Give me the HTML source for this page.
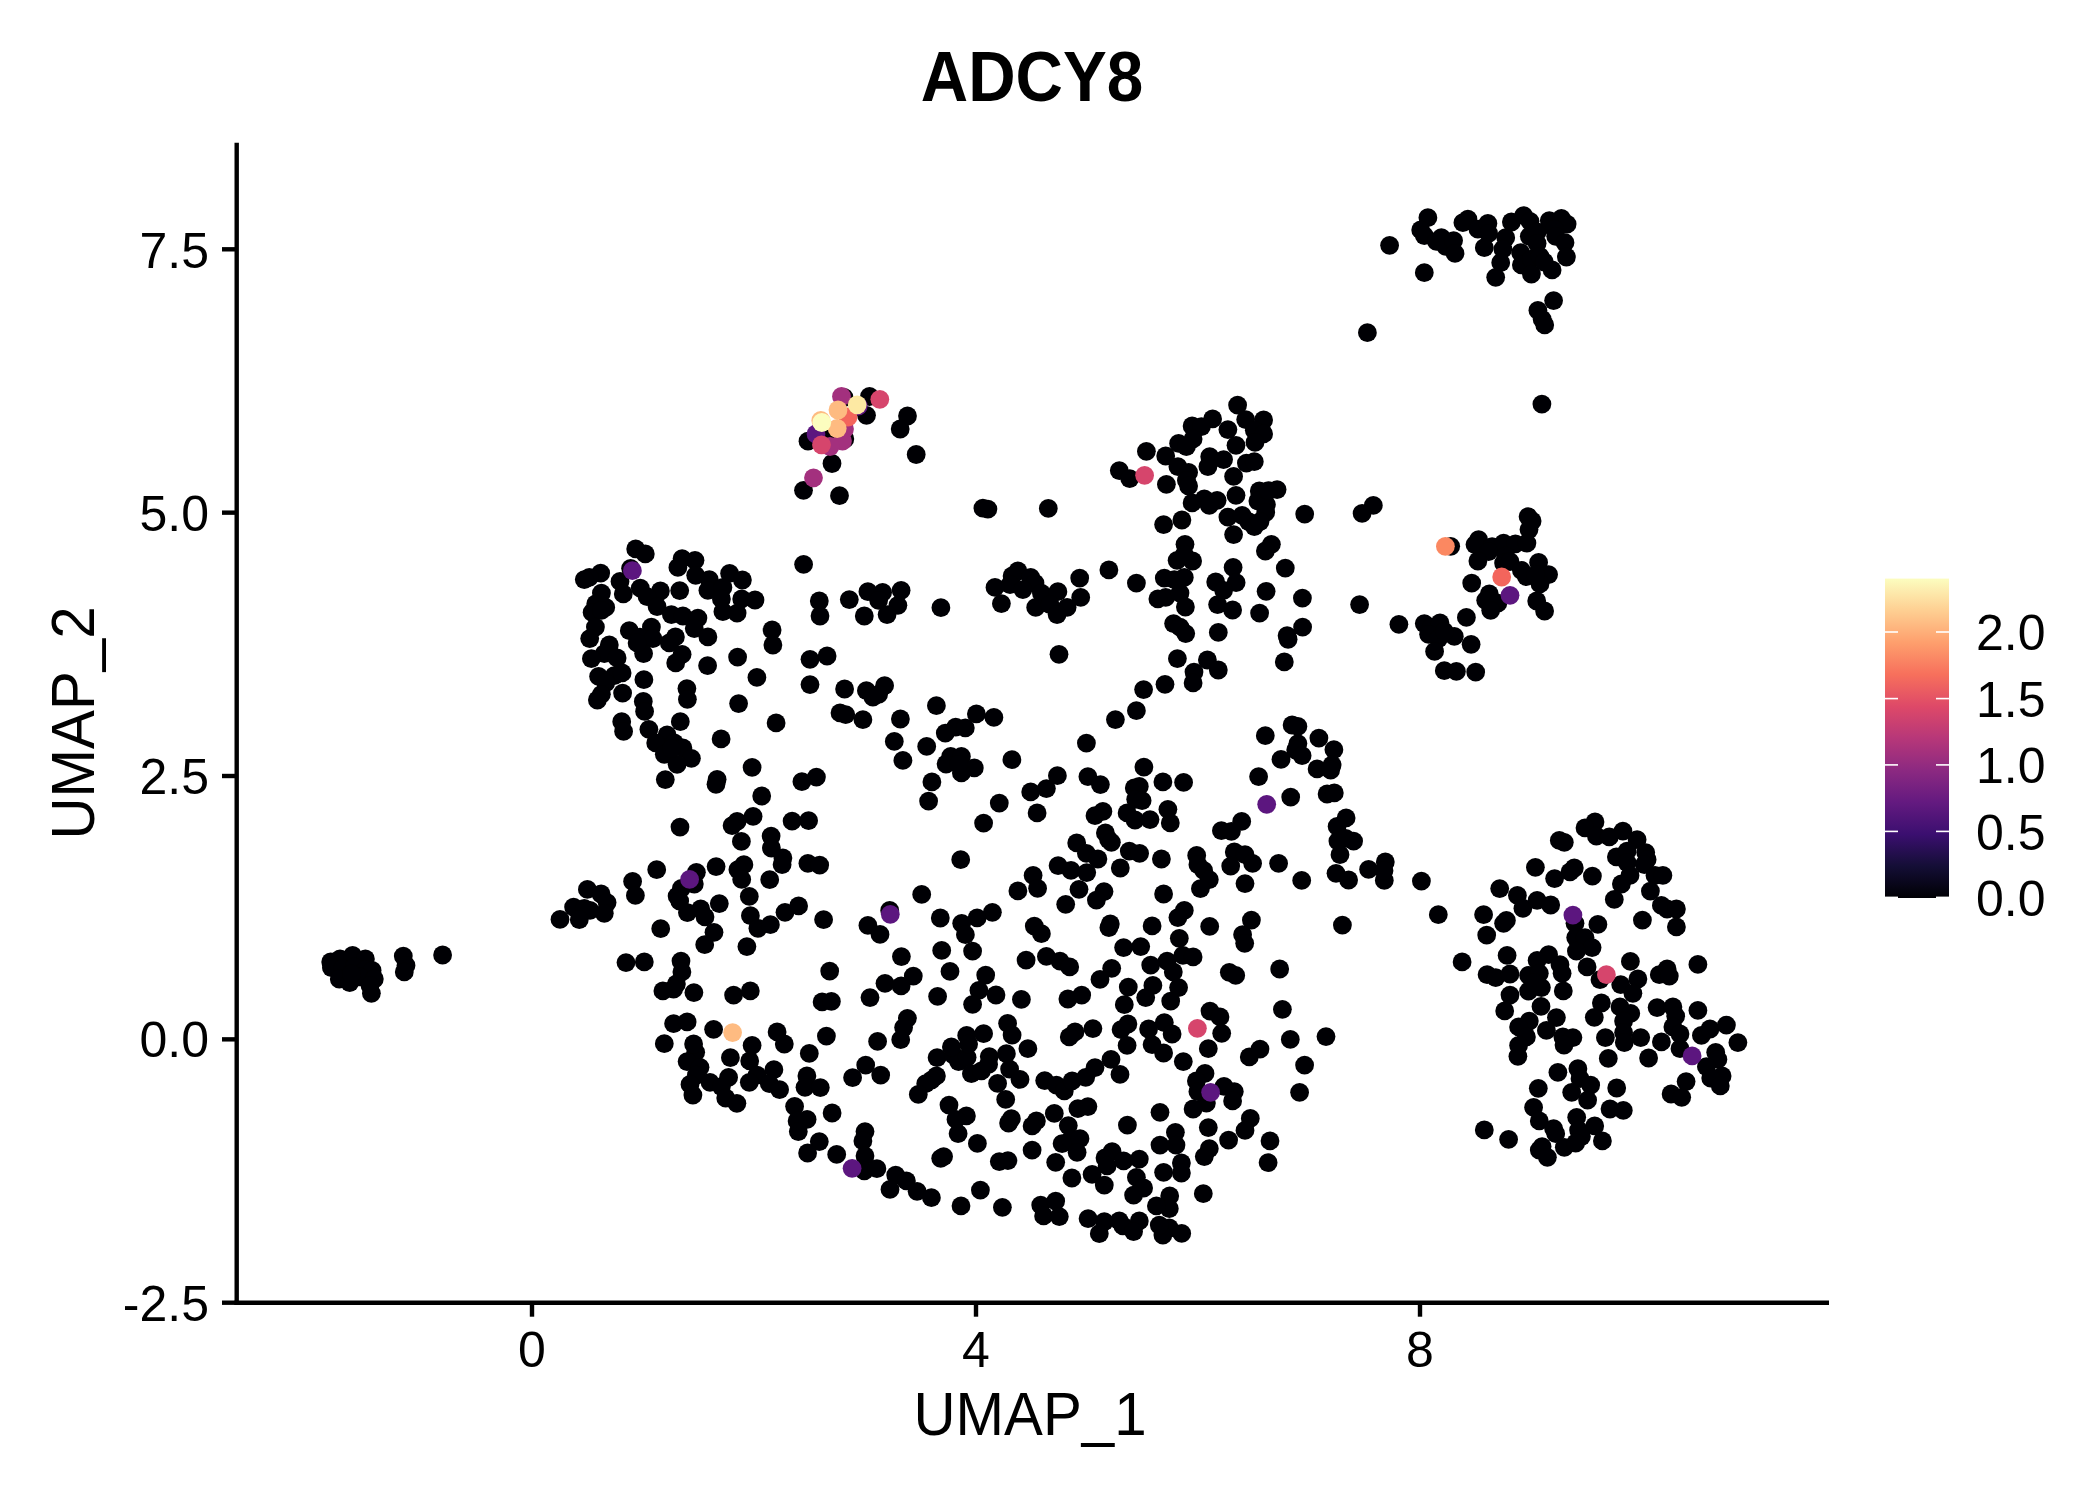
<!DOCTYPE html>
<html><head><meta charset="utf-8"><title>ADCY8</title>
<style>
html,body{margin:0;padding:0;background:#fff;}
body{width:2100px;height:1500px;overflow:hidden;}
svg{display:block;font-family:"Liberation Sans",Arial,Helvetica,sans-serif;fill:#000;}
.tick{font-size:50px;}
.axt{font-size:61px;}
.ttl{font-size:70px;font-weight:bold;}
</style></head><body>
<svg width="2100" height="1500" viewBox="0 0 2100 1500">
<defs>
<linearGradient id="mg" x1="0" y1="1" x2="0" y2="0">
<stop offset="0" stop-color="#000004"/>
<stop offset="0.1" stop-color="#140e36"/>
<stop offset="0.2" stop-color="#3b0f70"/>
<stop offset="0.3" stop-color="#641a80"/>
<stop offset="0.4" stop-color="#8c2981"/>
<stop offset="0.5" stop-color="#b73779"/>
<stop offset="0.6" stop-color="#de4968"/>
<stop offset="0.7" stop-color="#f7705c"/>
<stop offset="0.8" stop-color="#fe9f6d"/>
<stop offset="0.9" stop-color="#fecf92"/>
<stop offset="1" stop-color="#fcfdbf"/>
</linearGradient>
</defs>
<rect width="2100" height="1500" fill="#fff"/>
<text class="ttl" transform="translate(1032,101) scale(0.937,1)" text-anchor="middle">ADCY8</text>
<!-- points -->
<g fill="#000004">
<circle cx="1163.6" cy="1053.0" r="9.4"/>
<circle cx="1183.3" cy="1061.6" r="9.4"/>
<circle cx="1208.3" cy="1048.7" r="9.4"/>
<circle cx="1249.3" cy="1056.9" r="9.4"/>
<circle cx="1260.0" cy="1049.1" r="9.4"/>
<circle cx="1304.6" cy="1065.1" r="9.4"/>
<circle cx="1299.6" cy="1092.3" r="9.4"/>
<circle cx="1205.0" cy="1073.4" r="9.4"/>
<circle cx="1196.4" cy="1080.9" r="9.4"/>
<circle cx="1197.9" cy="1091.6" r="9.4"/>
<circle cx="1206.4" cy="1103.0" r="9.4"/>
<circle cx="1193.1" cy="1109.0" r="9.4"/>
<circle cx="1224.0" cy="1086.3" r="9.4"/>
<circle cx="1234.3" cy="1091.6" r="9.4"/>
<circle cx="1232.6" cy="1100.9" r="9.4"/>
<circle cx="1160.0" cy="1112.3" r="9.4"/>
<circle cx="1250.3" cy="1118.4" r="9.4"/>
<circle cx="1245.0" cy="1130.4" r="9.4"/>
<circle cx="1208.3" cy="1127.6" r="9.4"/>
<circle cx="1228.6" cy="1140.1" r="9.4"/>
<circle cx="1270.0" cy="1140.9" r="9.4"/>
<circle cx="1268.1" cy="1162.7" r="9.4"/>
<circle cx="1175.4" cy="1132.3" r="9.4"/>
<circle cx="1176.0" cy="1145.1" r="9.4"/>
<circle cx="1160.0" cy="1145.1" r="9.4"/>
<circle cx="1209.3" cy="1148.7" r="9.4"/>
<circle cx="1204.3" cy="1156.6" r="9.4"/>
<circle cx="1181.4" cy="1163.0" r="9.4"/>
<circle cx="1181.4" cy="1173.0" r="9.4"/>
<circle cx="1163.6" cy="1172.3" r="9.4"/>
<circle cx="1203.3" cy="1193.7" r="9.4"/>
<circle cx="1169.7" cy="1195.9" r="9.4"/>
<circle cx="1169.3" cy="1208.7" r="9.4"/>
<circle cx="1169.3" cy="1228.0" r="9.4"/>
<circle cx="1162.9" cy="1235.1" r="9.4"/>
<circle cx="1181.7" cy="1233.4" r="9.4"/>
<circle cx="1427.9" cy="217.7" r="9.4"/>
<circle cx="1420.7" cy="229.9" r="9.4"/>
<circle cx="1424.3" cy="235.6" r="9.4"/>
<circle cx="1436.4" cy="241.3" r="9.4"/>
<circle cx="1441.4" cy="237.7" r="9.4"/>
<circle cx="1445.7" cy="246.3" r="9.4"/>
<circle cx="1453.6" cy="240.6" r="9.4"/>
<circle cx="1455.0" cy="253.4" r="9.4"/>
<circle cx="1389.6" cy="245.3" r="9.4"/>
<circle cx="1424.3" cy="272.7" r="9.4"/>
<circle cx="1367.4" cy="332.7" r="9.4"/>
<circle cx="1237.6" cy="405.1" r="9.4"/>
<circle cx="1212.6" cy="418.9" r="9.4"/>
<circle cx="1192.1" cy="426.0" r="9.4"/>
<circle cx="1201.4" cy="426.7" r="9.4"/>
<circle cx="1193.1" cy="438.9" r="9.4"/>
<circle cx="1178.6" cy="443.4" r="9.4"/>
<circle cx="1186.4" cy="446.7" r="9.4"/>
<circle cx="1227.9" cy="429.6" r="9.4"/>
<circle cx="1236.0" cy="445.3" r="9.4"/>
<circle cx="1245.7" cy="419.6" r="9.4"/>
<circle cx="1263.6" cy="420.0" r="9.4"/>
<circle cx="1254.3" cy="430.3" r="9.4"/>
<circle cx="1263.6" cy="433.9" r="9.4"/>
<circle cx="1255.0" cy="442.4" r="9.4"/>
<circle cx="1165.7" cy="456.0" r="9.4"/>
<circle cx="1177.9" cy="466.7" r="9.4"/>
<circle cx="1188.6" cy="472.4" r="9.4"/>
<circle cx="1186.4" cy="480.3" r="9.4"/>
<circle cx="1188.6" cy="486.0" r="9.4"/>
<circle cx="1209.7" cy="456.7" r="9.4"/>
<circle cx="1223.6" cy="459.6" r="9.4"/>
<circle cx="1207.9" cy="466.7" r="9.4"/>
<circle cx="1246.4" cy="463.1" r="9.4"/>
<circle cx="1254.3" cy="461.7" r="9.4"/>
<circle cx="1233.6" cy="476.4" r="9.4"/>
<circle cx="1166.4" cy="484.3" r="9.4"/>
<circle cx="1236.0" cy="495.3" r="9.4"/>
<circle cx="1259.3" cy="491.0" r="9.4"/>
<circle cx="1277.1" cy="489.6" r="9.4"/>
<circle cx="1257.9" cy="501.0" r="9.4"/>
<circle cx="1266.4" cy="504.6" r="9.4"/>
<circle cx="1265.7" cy="512.4" r="9.4"/>
<circle cx="1192.1" cy="502.9" r="9.4"/>
<circle cx="1204.3" cy="498.9" r="9.4"/>
<circle cx="1217.1" cy="500.3" r="9.4"/>
<circle cx="1209.3" cy="505.3" r="9.4"/>
<circle cx="1227.9" cy="517.1" r="9.4"/>
<circle cx="1242.1" cy="515.3" r="9.4"/>
<circle cx="1248.6" cy="521.7" r="9.4"/>
<circle cx="1254.3" cy="526.7" r="9.4"/>
<circle cx="1260.0" cy="521.7" r="9.4"/>
<circle cx="1181.9" cy="520.0" r="9.4"/>
<circle cx="1163.6" cy="524.6" r="9.4"/>
<circle cx="1233.6" cy="534.6" r="9.4"/>
<circle cx="1304.7" cy="514.1" r="9.4"/>
<circle cx="1373.3" cy="505.3" r="9.4"/>
<circle cx="1362.1" cy="513.4" r="9.4"/>
<circle cx="1450.7" cy="546.3" r="9.4"/>
<circle cx="1271.4" cy="544.3" r="9.4"/>
<circle cx="1265.4" cy="551.0" r="9.4"/>
<circle cx="1285.3" cy="568.1" r="9.4"/>
<circle cx="1185.0" cy="544.3" r="9.4"/>
<circle cx="1177.1" cy="560.3" r="9.4"/>
<circle cx="1192.6" cy="561.0" r="9.4"/>
<circle cx="1184.3" cy="554.6" r="9.4"/>
<circle cx="1233.1" cy="567.4" r="9.4"/>
<circle cx="1236.1" cy="582.7" r="9.4"/>
<circle cx="1215.7" cy="582.0" r="9.4"/>
<circle cx="1223.6" cy="590.3" r="9.4"/>
<circle cx="1164.3" cy="578.1" r="9.4"/>
<circle cx="1174.3" cy="579.6" r="9.4"/>
<circle cx="1184.3" cy="577.4" r="9.4"/>
<circle cx="1266.1" cy="591.3" r="9.4"/>
<circle cx="1302.4" cy="598.1" r="9.4"/>
<circle cx="1359.6" cy="604.6" r="9.4"/>
<circle cx="1165.7" cy="597.4" r="9.4"/>
<circle cx="1180.0" cy="593.1" r="9.4"/>
<circle cx="1185.4" cy="607.0" r="9.4"/>
<circle cx="1217.6" cy="604.6" r="9.4"/>
<circle cx="1232.6" cy="610.0" r="9.4"/>
<circle cx="1259.6" cy="613.1" r="9.4"/>
<circle cx="1173.6" cy="623.6" r="9.4"/>
<circle cx="1180.0" cy="627.1" r="9.4"/>
<circle cx="1185.7" cy="633.6" r="9.4"/>
<circle cx="1218.3" cy="632.4" r="9.4"/>
<circle cx="1302.6" cy="627.1" r="9.4"/>
<circle cx="1287.1" cy="635.7" r="9.4"/>
<circle cx="1288.1" cy="639.3" r="9.4"/>
<circle cx="1284.3" cy="661.9" r="9.4"/>
<circle cx="1398.9" cy="624.3" r="9.4"/>
<circle cx="1424.3" cy="623.6" r="9.4"/>
<circle cx="1431.4" cy="627.1" r="9.4"/>
<circle cx="1440.0" cy="622.9" r="9.4"/>
<circle cx="1428.6" cy="634.3" r="9.4"/>
<circle cx="1438.6" cy="638.6" r="9.4"/>
<circle cx="1454.3" cy="636.4" r="9.4"/>
<circle cx="1444.3" cy="631.4" r="9.4"/>
<circle cx="1434.6" cy="651.4" r="9.4"/>
<circle cx="1444.3" cy="670.7" r="9.4"/>
<circle cx="1456.4" cy="671.4" r="9.4"/>
<circle cx="1177.4" cy="658.6" r="9.4"/>
<circle cx="1207.4" cy="660.0" r="9.4"/>
<circle cx="1194.0" cy="672.1" r="9.4"/>
<circle cx="1218.3" cy="670.0" r="9.4"/>
<circle cx="1193.1" cy="682.9" r="9.4"/>
<circle cx="1165.0" cy="684.3" r="9.4"/>
<circle cx="1292.1" cy="725.0" r="9.4"/>
<circle cx="1297.9" cy="726.4" r="9.4"/>
<circle cx="1265.3" cy="735.7" r="9.4"/>
<circle cx="1318.9" cy="738.1" r="9.4"/>
<circle cx="1333.9" cy="749.7" r="9.4"/>
<circle cx="1297.9" cy="743.6" r="9.4"/>
<circle cx="1295.7" cy="750.0" r="9.4"/>
<circle cx="1302.1" cy="755.7" r="9.4"/>
<circle cx="1281.0" cy="759.3" r="9.4"/>
<circle cx="1317.1" cy="768.9" r="9.4"/>
<circle cx="1332.1" cy="765.0" r="9.4"/>
<circle cx="1330.7" cy="770.0" r="9.4"/>
<circle cx="1258.6" cy="776.7" r="9.4"/>
<circle cx="1162.9" cy="781.9" r="9.4"/>
<circle cx="1183.6" cy="782.4" r="9.4"/>
<circle cx="1290.7" cy="797.1" r="9.4"/>
<circle cx="1327.1" cy="794.0" r="9.4"/>
<circle cx="1334.3" cy="792.9" r="9.4"/>
<circle cx="1167.9" cy="809.3" r="9.4"/>
<circle cx="1170.3" cy="822.9" r="9.4"/>
<circle cx="1241.7" cy="821.4" r="9.4"/>
<circle cx="1221.4" cy="830.7" r="9.4"/>
<circle cx="1231.4" cy="831.4" r="9.4"/>
<circle cx="1346.1" cy="817.9" r="9.4"/>
<circle cx="1337.1" cy="826.4" r="9.4"/>
<circle cx="1337.9" cy="841.1" r="9.4"/>
<circle cx="1345.7" cy="838.3" r="9.4"/>
<circle cx="1353.6" cy="841.1" r="9.4"/>
<circle cx="1340.0" cy="854.7" r="9.4"/>
<circle cx="1161.4" cy="859.0" r="9.4"/>
<circle cx="1196.7" cy="855.4" r="9.4"/>
<circle cx="1197.9" cy="864.7" r="9.4"/>
<circle cx="1203.6" cy="870.4" r="9.4"/>
<circle cx="1209.3" cy="879.7" r="9.4"/>
<circle cx="1200.4" cy="888.7" r="9.4"/>
<circle cx="1234.3" cy="851.9" r="9.4"/>
<circle cx="1245.0" cy="854.7" r="9.4"/>
<circle cx="1252.6" cy="863.3" r="9.4"/>
<circle cx="1230.7" cy="866.1" r="9.4"/>
<circle cx="1245.0" cy="883.6" r="9.4"/>
<circle cx="1278.6" cy="863.3" r="9.4"/>
<circle cx="1301.7" cy="880.4" r="9.4"/>
<circle cx="1336.0" cy="873.3" r="9.4"/>
<circle cx="1348.6" cy="880.0" r="9.4"/>
<circle cx="1368.6" cy="869.4" r="9.4"/>
<circle cx="1385.3" cy="861.9" r="9.4"/>
<circle cx="1384.3" cy="880.4" r="9.4"/>
<circle cx="1421.4" cy="881.1" r="9.4"/>
<circle cx="1163.6" cy="894.0" r="9.4"/>
<circle cx="1184.3" cy="910.4" r="9.4"/>
<circle cx="1177.9" cy="917.6" r="9.4"/>
<circle cx="1209.7" cy="926.4" r="9.4"/>
<circle cx="1251.4" cy="920.1" r="9.4"/>
<circle cx="1242.6" cy="934.7" r="9.4"/>
<circle cx="1244.7" cy="943.3" r="9.4"/>
<circle cx="1342.4" cy="925.1" r="9.4"/>
<circle cx="1438.3" cy="914.7" r="9.4"/>
<circle cx="1179.3" cy="938.3" r="9.4"/>
<circle cx="1182.9" cy="955.4" r="9.4"/>
<circle cx="1193.1" cy="956.9" r="9.4"/>
<circle cx="1167.1" cy="961.1" r="9.4"/>
<circle cx="1173.3" cy="971.9" r="9.4"/>
<circle cx="1178.6" cy="987.6" r="9.4"/>
<circle cx="1170.7" cy="1001.1" r="9.4"/>
<circle cx="1229.3" cy="972.3" r="9.4"/>
<circle cx="1235.7" cy="975.4" r="9.4"/>
<circle cx="1279.7" cy="969.0" r="9.4"/>
<circle cx="1210.0" cy="1011.1" r="9.4"/>
<circle cx="1220.0" cy="1016.9" r="9.4"/>
<circle cx="1221.7" cy="1033.3" r="9.4"/>
<circle cx="1282.4" cy="1009.3" r="9.4"/>
<circle cx="1164.3" cy="1022.6" r="9.4"/>
<circle cx="1172.1" cy="1034.0" r="9.4"/>
<circle cx="1290.3" cy="1039.4" r="9.4"/>
<circle cx="1326.0" cy="1036.6" r="9.4"/>
<circle cx="1517.9" cy="1056.3" r="9.4"/>
<circle cx="1608.3" cy="1058.4" r="9.4"/>
<circle cx="1648.6" cy="1058.0" r="9.4"/>
<circle cx="1680.0" cy="1048.7" r="9.4"/>
<circle cx="1715.7" cy="1052.3" r="9.4"/>
<circle cx="1717.9" cy="1059.4" r="9.4"/>
<circle cx="1706.4" cy="1066.6" r="9.4"/>
<circle cx="1722.1" cy="1075.9" r="9.4"/>
<circle cx="1710.7" cy="1078.0" r="9.4"/>
<circle cx="1720.3" cy="1085.9" r="9.4"/>
<circle cx="1557.9" cy="1072.3" r="9.4"/>
<circle cx="1577.9" cy="1068.7" r="9.4"/>
<circle cx="1580.0" cy="1078.7" r="9.4"/>
<circle cx="1590.7" cy="1085.1" r="9.4"/>
<circle cx="1538.3" cy="1088.3" r="9.4"/>
<circle cx="1571.7" cy="1092.3" r="9.4"/>
<circle cx="1587.6" cy="1100.1" r="9.4"/>
<circle cx="1616.7" cy="1088.0" r="9.4"/>
<circle cx="1610.0" cy="1109.0" r="9.4"/>
<circle cx="1623.3" cy="1110.4" r="9.4"/>
<circle cx="1686.1" cy="1081.6" r="9.4"/>
<circle cx="1671.1" cy="1094.0" r="9.4"/>
<circle cx="1681.7" cy="1097.3" r="9.4"/>
<circle cx="1533.6" cy="1107.3" r="9.4"/>
<circle cx="1539.3" cy="1120.9" r="9.4"/>
<circle cx="1553.6" cy="1128.7" r="9.4"/>
<circle cx="1555.7" cy="1133.7" r="9.4"/>
<circle cx="1576.7" cy="1117.3" r="9.4"/>
<circle cx="1594.7" cy="1125.9" r="9.4"/>
<circle cx="1578.6" cy="1130.1" r="9.4"/>
<circle cx="1581.4" cy="1136.6" r="9.4"/>
<circle cx="1602.4" cy="1140.9" r="9.4"/>
<circle cx="1484.3" cy="1129.9" r="9.4"/>
<circle cx="1508.6" cy="1139.4" r="9.4"/>
<circle cx="1542.1" cy="1146.6" r="9.4"/>
<circle cx="1539.3" cy="1150.1" r="9.4"/>
<circle cx="1547.4" cy="1157.3" r="9.4"/>
<circle cx="1564.3" cy="1147.3" r="9.4"/>
<circle cx="1575.7" cy="1143.0" r="9.4"/>
<circle cx="1467.9" cy="219.1" r="9.4"/>
<circle cx="1462.9" cy="222.7" r="9.4"/>
<circle cx="1477.9" cy="229.1" r="9.4"/>
<circle cx="1487.9" cy="223.4" r="9.4"/>
<circle cx="1488.6" cy="233.4" r="9.4"/>
<circle cx="1511.4" cy="222.0" r="9.4"/>
<circle cx="1523.6" cy="215.6" r="9.4"/>
<circle cx="1530.0" cy="221.3" r="9.4"/>
<circle cx="1505.7" cy="237.7" r="9.4"/>
<circle cx="1484.3" cy="247.7" r="9.4"/>
<circle cx="1529.3" cy="236.3" r="9.4"/>
<circle cx="1537.1" cy="232.0" r="9.4"/>
<circle cx="1537.1" cy="243.4" r="9.4"/>
<circle cx="1549.3" cy="220.6" r="9.4"/>
<circle cx="1561.4" cy="218.4" r="9.4"/>
<circle cx="1567.1" cy="224.1" r="9.4"/>
<circle cx="1554.3" cy="229.1" r="9.4"/>
<circle cx="1555.7" cy="236.3" r="9.4"/>
<circle cx="1565.0" cy="242.7" r="9.4"/>
<circle cx="1566.4" cy="257.0" r="9.4"/>
<circle cx="1502.9" cy="249.1" r="9.4"/>
<circle cx="1500.7" cy="262.7" r="9.4"/>
<circle cx="1495.7" cy="277.3" r="9.4"/>
<circle cx="1520.7" cy="252.7" r="9.4"/>
<circle cx="1521.4" cy="264.9" r="9.4"/>
<circle cx="1531.4" cy="259.1" r="9.4"/>
<circle cx="1540.0" cy="256.3" r="9.4"/>
<circle cx="1531.4" cy="274.1" r="9.4"/>
<circle cx="1552.1" cy="269.9" r="9.4"/>
<circle cx="1544.3" cy="262.0" r="9.4"/>
<circle cx="1553.6" cy="300.6" r="9.4"/>
<circle cx="1537.9" cy="310.3" r="9.4"/>
<circle cx="1542.1" cy="319.1" r="9.4"/>
<circle cx="1544.7" cy="324.9" r="9.4"/>
<circle cx="1541.9" cy="404.1" r="9.4"/>
<circle cx="1528.1" cy="516.7" r="9.4"/>
<circle cx="1532.1" cy="521.0" r="9.4"/>
<circle cx="1529.0" cy="529.6" r="9.4"/>
<circle cx="1478.6" cy="539.6" r="9.4"/>
<circle cx="1475.0" cy="544.6" r="9.4"/>
<circle cx="1492.1" cy="546.7" r="9.4"/>
<circle cx="1503.6" cy="543.1" r="9.4"/>
<circle cx="1515.4" cy="543.9" r="9.4"/>
<circle cx="1526.9" cy="543.1" r="9.4"/>
<circle cx="1488.6" cy="551.7" r="9.4"/>
<circle cx="1477.9" cy="561.0" r="9.4"/>
<circle cx="1505.7" cy="556.0" r="9.4"/>
<circle cx="1503.6" cy="563.1" r="9.4"/>
<circle cx="1510.0" cy="561.7" r="9.4"/>
<circle cx="1538.6" cy="562.4" r="9.4"/>
<circle cx="1521.4" cy="570.3" r="9.4"/>
<circle cx="1526.4" cy="576.7" r="9.4"/>
<circle cx="1548.6" cy="574.6" r="9.4"/>
<circle cx="1540.0" cy="583.9" r="9.4"/>
<circle cx="1535.7" cy="574.6" r="9.4"/>
<circle cx="1471.7" cy="583.1" r="9.4"/>
<circle cx="1489.3" cy="593.9" r="9.4"/>
<circle cx="1485.7" cy="600.3" r="9.4"/>
<circle cx="1497.9" cy="603.1" r="9.4"/>
<circle cx="1490.7" cy="610.3" r="9.4"/>
<circle cx="1536.7" cy="601.0" r="9.4"/>
<circle cx="1544.6" cy="611.0" r="9.4"/>
<circle cx="1466.4" cy="617.4" r="9.4"/>
<circle cx="1471.1" cy="644.3" r="9.4"/>
<circle cx="1475.7" cy="672.1" r="9.4"/>
<circle cx="1595.0" cy="821.9" r="9.4"/>
<circle cx="1585.0" cy="827.9" r="9.4"/>
<circle cx="1622.9" cy="831.1" r="9.4"/>
<circle cx="1559.3" cy="840.4" r="9.4"/>
<circle cx="1564.3" cy="842.3" r="9.4"/>
<circle cx="1596.4" cy="836.1" r="9.4"/>
<circle cx="1609.3" cy="836.9" r="9.4"/>
<circle cx="1637.1" cy="839.7" r="9.4"/>
<circle cx="1616.4" cy="856.9" r="9.4"/>
<circle cx="1627.1" cy="851.1" r="9.4"/>
<circle cx="1645.7" cy="852.6" r="9.4"/>
<circle cx="1647.1" cy="859.7" r="9.4"/>
<circle cx="1627.1" cy="862.6" r="9.4"/>
<circle cx="1644.3" cy="864.7" r="9.4"/>
<circle cx="1535.4" cy="867.3" r="9.4"/>
<circle cx="1574.3" cy="868.0" r="9.4"/>
<circle cx="1570.0" cy="871.9" r="9.4"/>
<circle cx="1554.6" cy="878.6" r="9.4"/>
<circle cx="1592.4" cy="876.1" r="9.4"/>
<circle cx="1630.0" cy="875.4" r="9.4"/>
<circle cx="1621.4" cy="884.0" r="9.4"/>
<circle cx="1614.3" cy="899.4" r="9.4"/>
<circle cx="1655.0" cy="875.4" r="9.4"/>
<circle cx="1662.9" cy="875.4" r="9.4"/>
<circle cx="1650.4" cy="891.1" r="9.4"/>
<circle cx="1499.7" cy="888.6" r="9.4"/>
<circle cx="1517.4" cy="895.4" r="9.4"/>
<circle cx="1522.9" cy="908.3" r="9.4"/>
<circle cx="1537.1" cy="900.4" r="9.4"/>
<circle cx="1550.7" cy="905.0" r="9.4"/>
<circle cx="1661.4" cy="905.4" r="9.4"/>
<circle cx="1667.1" cy="909.0" r="9.4"/>
<circle cx="1676.4" cy="909.0" r="9.4"/>
<circle cx="1642.4" cy="920.1" r="9.4"/>
<circle cx="1676.4" cy="926.9" r="9.4"/>
<circle cx="1575.0" cy="923.3" r="9.4"/>
<circle cx="1597.9" cy="924.4" r="9.4"/>
<circle cx="1483.6" cy="914.7" r="9.4"/>
<circle cx="1503.6" cy="923.3" r="9.4"/>
<circle cx="1506.4" cy="920.4" r="9.4"/>
<circle cx="1486.7" cy="935.1" r="9.4"/>
<circle cx="1575.7" cy="937.6" r="9.4"/>
<circle cx="1585.0" cy="937.6" r="9.4"/>
<circle cx="1592.1" cy="947.6" r="9.4"/>
<circle cx="1576.4" cy="951.1" r="9.4"/>
<circle cx="1462.1" cy="961.9" r="9.4"/>
<circle cx="1507.1" cy="955.4" r="9.4"/>
<circle cx="1548.6" cy="954.7" r="9.4"/>
<circle cx="1537.1" cy="960.4" r="9.4"/>
<circle cx="1560.0" cy="964.7" r="9.4"/>
<circle cx="1562.1" cy="973.3" r="9.4"/>
<circle cx="1587.1" cy="966.9" r="9.4"/>
<circle cx="1630.4" cy="961.4" r="9.4"/>
<circle cx="1697.9" cy="964.4" r="9.4"/>
<circle cx="1600.0" cy="979.7" r="9.4"/>
<circle cx="1637.9" cy="979.0" r="9.4"/>
<circle cx="1620.7" cy="984.7" r="9.4"/>
<circle cx="1632.9" cy="993.3" r="9.4"/>
<circle cx="1659.3" cy="974.7" r="9.4"/>
<circle cx="1667.1" cy="969.0" r="9.4"/>
<circle cx="1669.3" cy="976.1" r="9.4"/>
<circle cx="1487.1" cy="974.7" r="9.4"/>
<circle cx="1495.7" cy="977.6" r="9.4"/>
<circle cx="1510.0" cy="974.0" r="9.4"/>
<circle cx="1528.6" cy="975.4" r="9.4"/>
<circle cx="1539.3" cy="973.3" r="9.4"/>
<circle cx="1528.6" cy="991.1" r="9.4"/>
<circle cx="1541.4" cy="987.6" r="9.4"/>
<circle cx="1534.3" cy="982.6" r="9.4"/>
<circle cx="1563.3" cy="990.9" r="9.4"/>
<circle cx="1510.0" cy="995.1" r="9.4"/>
<circle cx="1541.0" cy="1006.4" r="9.4"/>
<circle cx="1504.7" cy="1010.9" r="9.4"/>
<circle cx="1601.4" cy="1003.0" r="9.4"/>
<circle cx="1594.3" cy="1017.3" r="9.4"/>
<circle cx="1620.0" cy="1006.9" r="9.4"/>
<circle cx="1630.7" cy="1013.3" r="9.4"/>
<circle cx="1623.6" cy="1021.1" r="9.4"/>
<circle cx="1657.1" cy="1007.6" r="9.4"/>
<circle cx="1672.9" cy="1006.9" r="9.4"/>
<circle cx="1675.7" cy="1016.1" r="9.4"/>
<circle cx="1697.9" cy="1010.4" r="9.4"/>
<circle cx="1556.4" cy="1017.6" r="9.4"/>
<circle cx="1529.3" cy="1021.1" r="9.4"/>
<circle cx="1518.6" cy="1026.9" r="9.4"/>
<circle cx="1526.4" cy="1036.9" r="9.4"/>
<circle cx="1546.4" cy="1030.4" r="9.4"/>
<circle cx="1562.9" cy="1036.9" r="9.4"/>
<circle cx="1572.9" cy="1037.6" r="9.4"/>
<circle cx="1605.4" cy="1037.6" r="9.4"/>
<circle cx="1623.6" cy="1032.6" r="9.4"/>
<circle cx="1640.7" cy="1037.6" r="9.4"/>
<circle cx="1672.9" cy="1026.9" r="9.4"/>
<circle cx="1680.0" cy="1034.0" r="9.4"/>
<circle cx="1661.4" cy="1041.9" r="9.4"/>
<circle cx="1701.4" cy="1035.4" r="9.4"/>
<circle cx="1710.0" cy="1029.0" r="9.4"/>
<circle cx="1726.4" cy="1025.1" r="9.4"/>
<circle cx="1737.9" cy="1042.6" r="9.4"/>
<circle cx="1624.3" cy="1042.6" r="9.4"/>
<circle cx="1518.6" cy="1045.4" r="9.4"/>
<circle cx="330.7" cy="961.9" r="9.4"/>
<circle cx="340.0" cy="959.0" r="9.4"/>
<circle cx="352.6" cy="955.4" r="9.4"/>
<circle cx="365.4" cy="959.0" r="9.4"/>
<circle cx="331.4" cy="967.6" r="9.4"/>
<circle cx="342.9" cy="968.3" r="9.4"/>
<circle cx="354.3" cy="966.9" r="9.4"/>
<circle cx="365.7" cy="969.7" r="9.4"/>
<circle cx="372.1" cy="970.4" r="9.4"/>
<circle cx="339.3" cy="979.0" r="9.4"/>
<circle cx="349.7" cy="982.6" r="9.4"/>
<circle cx="360.0" cy="976.9" r="9.4"/>
<circle cx="374.3" cy="979.0" r="9.4"/>
<circle cx="370.0" cy="985.4" r="9.4"/>
<circle cx="371.4" cy="993.3" r="9.4"/>
<circle cx="351.4" cy="974.0" r="9.4"/>
<circle cx="403.3" cy="956.1" r="9.4"/>
<circle cx="406.0" cy="965.4" r="9.4"/>
<circle cx="404.3" cy="971.9" r="9.4"/>
<circle cx="442.6" cy="955.0" r="9.4"/>
<circle cx="560.0" cy="919.4" r="9.4"/>
<circle cx="695.7" cy="1052.3" r="9.4"/>
<circle cx="687.1" cy="1061.6" r="9.4"/>
<circle cx="700.0" cy="1067.3" r="9.4"/>
<circle cx="696.4" cy="1075.1" r="9.4"/>
<circle cx="690.0" cy="1084.4" r="9.4"/>
<circle cx="710.0" cy="1082.3" r="9.4"/>
<circle cx="692.9" cy="1095.1" r="9.4"/>
<circle cx="730.4" cy="1057.7" r="9.4"/>
<circle cx="728.6" cy="1077.3" r="9.4"/>
<circle cx="721.4" cy="1086.6" r="9.4"/>
<circle cx="725.7" cy="1098.0" r="9.4"/>
<circle cx="736.9" cy="1103.3" r="9.4"/>
<circle cx="749.7" cy="1060.9" r="9.4"/>
<circle cx="757.1" cy="1075.1" r="9.4"/>
<circle cx="749.3" cy="1082.3" r="9.4"/>
<circle cx="773.9" cy="1069.7" r="9.4"/>
<circle cx="769.3" cy="1083.7" r="9.4"/>
<circle cx="779.6" cy="1089.7" r="9.4"/>
<circle cx="809.3" cy="1053.4" r="9.4"/>
<circle cx="806.9" cy="1075.9" r="9.4"/>
<circle cx="805.0" cy="1087.3" r="9.4"/>
<circle cx="820.3" cy="1087.6" r="9.4"/>
<circle cx="852.6" cy="1077.7" r="9.4"/>
<circle cx="794.6" cy="1106.3" r="9.4"/>
<circle cx="807.1" cy="1119.4" r="9.4"/>
<circle cx="797.1" cy="1120.9" r="9.4"/>
<circle cx="798.3" cy="1131.6" r="9.4"/>
<circle cx="832.1" cy="1113.0" r="9.4"/>
<circle cx="819.3" cy="1141.6" r="9.4"/>
<circle cx="807.6" cy="1153.0" r="9.4"/>
<circle cx="836.7" cy="1154.4" r="9.4"/>
<circle cx="803.6" cy="564.3" r="9.4"/>
<circle cx="635.7" cy="548.9" r="9.4"/>
<circle cx="645.3" cy="553.9" r="9.4"/>
<circle cx="630.6" cy="568.3" r="9.4"/>
<circle cx="682.1" cy="558.6" r="9.4"/>
<circle cx="695.0" cy="560.3" r="9.4"/>
<circle cx="677.9" cy="567.4" r="9.4"/>
<circle cx="695.7" cy="575.3" r="9.4"/>
<circle cx="600.7" cy="573.1" r="9.4"/>
<circle cx="589.3" cy="577.4" r="9.4"/>
<circle cx="584.3" cy="579.6" r="9.4"/>
<circle cx="620.0" cy="581.4" r="9.4"/>
<circle cx="709.3" cy="579.6" r="9.4"/>
<circle cx="729.6" cy="573.4" r="9.4"/>
<circle cx="742.4" cy="580.0" r="9.4"/>
<circle cx="640.3" cy="588.1" r="9.4"/>
<circle cx="660.4" cy="591.0" r="9.4"/>
<circle cx="679.7" cy="590.6" r="9.4"/>
<circle cx="601.4" cy="593.1" r="9.4"/>
<circle cx="623.3" cy="593.9" r="9.4"/>
<circle cx="707.9" cy="590.3" r="9.4"/>
<circle cx="722.9" cy="587.4" r="9.4"/>
<circle cx="647.1" cy="596.7" r="9.4"/>
<circle cx="721.4" cy="598.9" r="9.4"/>
<circle cx="741.7" cy="598.9" r="9.4"/>
<circle cx="755.0" cy="600.0" r="9.4"/>
<circle cx="595.7" cy="603.9" r="9.4"/>
<circle cx="605.7" cy="607.4" r="9.4"/>
<circle cx="657.1" cy="606.7" r="9.4"/>
<circle cx="819.3" cy="601.0" r="9.4"/>
<circle cx="849.3" cy="599.6" r="9.4"/>
<circle cx="592.1" cy="612.4" r="9.4"/>
<circle cx="601.4" cy="610.3" r="9.4"/>
<circle cx="722.9" cy="611.7" r="9.4"/>
<circle cx="737.1" cy="613.1" r="9.4"/>
<circle cx="671.4" cy="614.6" r="9.4"/>
<circle cx="682.9" cy="616.0" r="9.4"/>
<circle cx="697.9" cy="618.1" r="9.4"/>
<circle cx="820.0" cy="616.0" r="9.4"/>
<circle cx="595.4" cy="627.1" r="9.4"/>
<circle cx="589.7" cy="638.6" r="9.4"/>
<circle cx="629.3" cy="630.7" r="9.4"/>
<circle cx="609.3" cy="645.0" r="9.4"/>
<circle cx="604.3" cy="653.6" r="9.4"/>
<circle cx="591.4" cy="658.6" r="9.4"/>
<circle cx="617.1" cy="657.9" r="9.4"/>
<circle cx="651.4" cy="627.1" r="9.4"/>
<circle cx="640.0" cy="637.1" r="9.4"/>
<circle cx="652.9" cy="638.6" r="9.4"/>
<circle cx="643.6" cy="653.6" r="9.4"/>
<circle cx="637.1" cy="642.9" r="9.4"/>
<circle cx="694.3" cy="628.6" r="9.4"/>
<circle cx="707.9" cy="636.9" r="9.4"/>
<circle cx="675.4" cy="636.9" r="9.4"/>
<circle cx="669.3" cy="642.9" r="9.4"/>
<circle cx="682.1" cy="654.3" r="9.4"/>
<circle cx="675.7" cy="662.9" r="9.4"/>
<circle cx="772.1" cy="630.0" r="9.4"/>
<circle cx="772.9" cy="645.0" r="9.4"/>
<circle cx="737.6" cy="657.1" r="9.4"/>
<circle cx="707.6" cy="665.7" r="9.4"/>
<circle cx="810.0" cy="659.3" r="9.4"/>
<circle cx="827.1" cy="656.0" r="9.4"/>
<circle cx="756.9" cy="677.4" r="9.4"/>
<circle cx="810.0" cy="684.6" r="9.4"/>
<circle cx="844.6" cy="689.0" r="9.4"/>
<circle cx="598.6" cy="676.4" r="9.4"/>
<circle cx="614.3" cy="675.7" r="9.4"/>
<circle cx="622.1" cy="672.9" r="9.4"/>
<circle cx="605.7" cy="682.9" r="9.4"/>
<circle cx="643.9" cy="679.7" r="9.4"/>
<circle cx="686.9" cy="688.6" r="9.4"/>
<circle cx="687.4" cy="699.3" r="9.4"/>
<circle cx="622.6" cy="693.1" r="9.4"/>
<circle cx="601.4" cy="694.3" r="9.4"/>
<circle cx="597.4" cy="700.0" r="9.4"/>
<circle cx="643.3" cy="701.4" r="9.4"/>
<circle cx="644.6" cy="711.4" r="9.4"/>
<circle cx="738.6" cy="703.6" r="9.4"/>
<circle cx="840.0" cy="712.9" r="9.4"/>
<circle cx="845.7" cy="714.6" r="9.4"/>
<circle cx="621.7" cy="721.7" r="9.4"/>
<circle cx="623.6" cy="731.4" r="9.4"/>
<circle cx="680.3" cy="721.7" r="9.4"/>
<circle cx="776.1" cy="722.9" r="9.4"/>
<circle cx="648.9" cy="729.3" r="9.4"/>
<circle cx="667.1" cy="735.0" r="9.4"/>
<circle cx="655.7" cy="742.9" r="9.4"/>
<circle cx="674.3" cy="742.9" r="9.4"/>
<circle cx="682.9" cy="747.9" r="9.4"/>
<circle cx="664.3" cy="754.3" r="9.4"/>
<circle cx="691.4" cy="758.3" r="9.4"/>
<circle cx="677.1" cy="764.3" r="9.4"/>
<circle cx="671.4" cy="748.6" r="9.4"/>
<circle cx="721.1" cy="738.9" r="9.4"/>
<circle cx="752.1" cy="767.4" r="9.4"/>
<circle cx="665.3" cy="779.6" r="9.4"/>
<circle cx="717.1" cy="779.3" r="9.4"/>
<circle cx="716.0" cy="784.3" r="9.4"/>
<circle cx="816.4" cy="777.1" r="9.4"/>
<circle cx="801.9" cy="781.7" r="9.4"/>
<circle cx="761.7" cy="796.0" r="9.4"/>
<circle cx="753.1" cy="816.4" r="9.4"/>
<circle cx="737.1" cy="821.4" r="9.4"/>
<circle cx="732.1" cy="825.7" r="9.4"/>
<circle cx="792.1" cy="821.1" r="9.4"/>
<circle cx="808.6" cy="820.7" r="9.4"/>
<circle cx="680.0" cy="827.1" r="9.4"/>
<circle cx="741.4" cy="841.4" r="9.4"/>
<circle cx="771.1" cy="836.1" r="9.4"/>
<circle cx="771.4" cy="848.0" r="9.4"/>
<circle cx="782.9" cy="858.0" r="9.4"/>
<circle cx="782.1" cy="864.7" r="9.4"/>
<circle cx="807.9" cy="863.3" r="9.4"/>
<circle cx="819.7" cy="865.1" r="9.4"/>
<circle cx="656.7" cy="869.7" r="9.4"/>
<circle cx="716.1" cy="866.6" r="9.4"/>
<circle cx="743.9" cy="864.7" r="9.4"/>
<circle cx="737.9" cy="869.7" r="9.4"/>
<circle cx="741.7" cy="879.4" r="9.4"/>
<circle cx="769.7" cy="879.7" r="9.4"/>
<circle cx="696.4" cy="872.3" r="9.4"/>
<circle cx="694.3" cy="884.0" r="9.4"/>
<circle cx="681.4" cy="888.3" r="9.4"/>
<circle cx="632.6" cy="881.4" r="9.4"/>
<circle cx="635.4" cy="895.4" r="9.4"/>
<circle cx="587.4" cy="889.4" r="9.4"/>
<circle cx="601.1" cy="894.0" r="9.4"/>
<circle cx="607.1" cy="902.6" r="9.4"/>
<circle cx="604.3" cy="913.3" r="9.4"/>
<circle cx="573.6" cy="907.1" r="9.4"/>
<circle cx="584.3" cy="908.3" r="9.4"/>
<circle cx="590.0" cy="910.4" r="9.4"/>
<circle cx="579.3" cy="919.7" r="9.4"/>
<circle cx="677.1" cy="896.1" r="9.4"/>
<circle cx="679.7" cy="901.1" r="9.4"/>
<circle cx="687.4" cy="912.6" r="9.4"/>
<circle cx="700.7" cy="909.0" r="9.4"/>
<circle cx="705.0" cy="916.9" r="9.4"/>
<circle cx="719.3" cy="903.6" r="9.4"/>
<circle cx="749.3" cy="896.4" r="9.4"/>
<circle cx="750.4" cy="915.7" r="9.4"/>
<circle cx="757.9" cy="928.3" r="9.4"/>
<circle cx="770.4" cy="924.7" r="9.4"/>
<circle cx="785.0" cy="912.3" r="9.4"/>
<circle cx="798.6" cy="905.9" r="9.4"/>
<circle cx="823.6" cy="919.7" r="9.4"/>
<circle cx="660.7" cy="928.7" r="9.4"/>
<circle cx="714.0" cy="932.3" r="9.4"/>
<circle cx="704.7" cy="944.7" r="9.4"/>
<circle cx="746.9" cy="946.6" r="9.4"/>
<circle cx="626.0" cy="962.6" r="9.4"/>
<circle cx="644.3" cy="961.9" r="9.4"/>
<circle cx="681.0" cy="961.1" r="9.4"/>
<circle cx="681.9" cy="971.9" r="9.4"/>
<circle cx="676.4" cy="984.0" r="9.4"/>
<circle cx="673.6" cy="989.0" r="9.4"/>
<circle cx="662.9" cy="990.9" r="9.4"/>
<circle cx="693.9" cy="992.6" r="9.4"/>
<circle cx="733.6" cy="995.1" r="9.4"/>
<circle cx="750.3" cy="990.9" r="9.4"/>
<circle cx="829.7" cy="971.1" r="9.4"/>
<circle cx="822.1" cy="1001.9" r="9.4"/>
<circle cx="831.4" cy="1001.4" r="9.4"/>
<circle cx="673.6" cy="1023.7" r="9.4"/>
<circle cx="687.1" cy="1021.9" r="9.4"/>
<circle cx="713.6" cy="1029.3" r="9.4"/>
<circle cx="777.1" cy="1031.9" r="9.4"/>
<circle cx="826.4" cy="1036.1" r="9.4"/>
<circle cx="784.3" cy="1044.0" r="9.4"/>
<circle cx="752.1" cy="1045.4" r="9.4"/>
<circle cx="664.3" cy="1043.7" r="9.4"/>
<circle cx="693.6" cy="1044.0" r="9.4"/>
<circle cx="865.7" cy="1065.1" r="9.4"/>
<circle cx="880.7" cy="1075.1" r="9.4"/>
<circle cx="937.1" cy="1057.7" r="9.4"/>
<circle cx="953.6" cy="1055.1" r="9.4"/>
<circle cx="958.6" cy="1061.6" r="9.4"/>
<circle cx="967.1" cy="1057.3" r="9.4"/>
<circle cx="971.4" cy="1073.7" r="9.4"/>
<circle cx="981.4" cy="1070.9" r="9.4"/>
<circle cx="989.3" cy="1056.6" r="9.4"/>
<circle cx="988.6" cy="1064.4" r="9.4"/>
<circle cx="936.4" cy="1075.9" r="9.4"/>
<circle cx="931.4" cy="1080.1" r="9.4"/>
<circle cx="925.7" cy="1083.7" r="9.4"/>
<circle cx="918.3" cy="1094.4" r="9.4"/>
<circle cx="1006.4" cy="1053.7" r="9.4"/>
<circle cx="1009.6" cy="1069.1" r="9.4"/>
<circle cx="1020.0" cy="1079.4" r="9.4"/>
<circle cx="997.6" cy="1083.4" r="9.4"/>
<circle cx="1005.7" cy="1099.4" r="9.4"/>
<circle cx="1027.9" cy="1048.7" r="9.4"/>
<circle cx="1044.7" cy="1080.6" r="9.4"/>
<circle cx="1056.4" cy="1085.1" r="9.4"/>
<circle cx="1064.3" cy="1090.9" r="9.4"/>
<circle cx="1072.1" cy="1080.9" r="9.4"/>
<circle cx="1085.7" cy="1077.3" r="9.4"/>
<circle cx="1095.0" cy="1067.7" r="9.4"/>
<circle cx="1111.0" cy="1059.4" r="9.4"/>
<circle cx="1120.0" cy="1074.4" r="9.4"/>
<circle cx="949.0" cy="1105.1" r="9.4"/>
<circle cx="966.4" cy="1115.9" r="9.4"/>
<circle cx="956.0" cy="1119.4" r="9.4"/>
<circle cx="958.1" cy="1133.7" r="9.4"/>
<circle cx="1011.4" cy="1118.7" r="9.4"/>
<circle cx="1008.6" cy="1123.0" r="9.4"/>
<circle cx="1036.4" cy="1120.9" r="9.4"/>
<circle cx="1032.1" cy="1125.9" r="9.4"/>
<circle cx="1054.3" cy="1113.4" r="9.4"/>
<circle cx="1077.9" cy="1108.7" r="9.4"/>
<circle cx="1087.9" cy="1106.6" r="9.4"/>
<circle cx="1068.3" cy="1125.6" r="9.4"/>
<circle cx="1127.4" cy="1125.1" r="9.4"/>
<circle cx="865.0" cy="1131.6" r="9.4"/>
<circle cx="862.9" cy="1140.9" r="9.4"/>
<circle cx="865.0" cy="1155.9" r="9.4"/>
<circle cx="864.3" cy="1170.9" r="9.4"/>
<circle cx="876.9" cy="1168.7" r="9.4"/>
<circle cx="977.4" cy="1143.4" r="9.4"/>
<circle cx="943.6" cy="1156.6" r="9.4"/>
<circle cx="940.7" cy="1158.3" r="9.4"/>
<circle cx="999.3" cy="1161.6" r="9.4"/>
<circle cx="1007.9" cy="1160.6" r="9.4"/>
<circle cx="1032.1" cy="1150.1" r="9.4"/>
<circle cx="1055.7" cy="1162.3" r="9.4"/>
<circle cx="1062.1" cy="1143.7" r="9.4"/>
<circle cx="1070.7" cy="1139.4" r="9.4"/>
<circle cx="1080.0" cy="1138.7" r="9.4"/>
<circle cx="1077.1" cy="1152.3" r="9.4"/>
<circle cx="1112.1" cy="1151.6" r="9.4"/>
<circle cx="1105.0" cy="1158.0" r="9.4"/>
<circle cx="1107.1" cy="1165.9" r="9.4"/>
<circle cx="1123.6" cy="1160.9" r="9.4"/>
<circle cx="1139.3" cy="1159.1" r="9.4"/>
<circle cx="895.7" cy="1175.1" r="9.4"/>
<circle cx="906.4" cy="1180.9" r="9.4"/>
<circle cx="890.0" cy="1189.4" r="9.4"/>
<circle cx="917.1" cy="1191.3" r="9.4"/>
<circle cx="931.4" cy="1197.7" r="9.4"/>
<circle cx="980.4" cy="1190.1" r="9.4"/>
<circle cx="961.0" cy="1205.9" r="9.4"/>
<circle cx="1002.4" cy="1207.3" r="9.4"/>
<circle cx="1071.9" cy="1178.0" r="9.4"/>
<circle cx="1092.1" cy="1174.4" r="9.4"/>
<circle cx="1104.3" cy="1185.1" r="9.4"/>
<circle cx="1136.4" cy="1177.3" r="9.4"/>
<circle cx="1143.6" cy="1188.0" r="9.4"/>
<circle cx="1133.6" cy="1195.1" r="9.4"/>
<circle cx="1156.4" cy="1205.9" r="9.4"/>
<circle cx="1040.7" cy="1205.1" r="9.4"/>
<circle cx="1055.7" cy="1201.1" r="9.4"/>
<circle cx="1043.6" cy="1215.9" r="9.4"/>
<circle cx="1059.3" cy="1216.6" r="9.4"/>
<circle cx="1088.1" cy="1218.7" r="9.4"/>
<circle cx="1104.3" cy="1221.6" r="9.4"/>
<circle cx="1119.3" cy="1220.9" r="9.4"/>
<circle cx="1122.9" cy="1225.9" r="9.4"/>
<circle cx="1139.3" cy="1220.9" r="9.4"/>
<circle cx="1099.3" cy="1233.7" r="9.4"/>
<circle cx="1133.6" cy="1231.6" r="9.4"/>
<circle cx="1159.3" cy="1225.1" r="9.4"/>
<circle cx="982.9" cy="508.1" r="9.4"/>
<circle cx="987.9" cy="509.1" r="9.4"/>
<circle cx="1048.3" cy="508.4" r="9.4"/>
<circle cx="1146.4" cy="451.3" r="9.4"/>
<circle cx="1119.3" cy="470.6" r="9.4"/>
<circle cx="1129.7" cy="478.6" r="9.4"/>
<circle cx="1108.9" cy="569.9" r="9.4"/>
<circle cx="1079.7" cy="578.1" r="9.4"/>
<circle cx="1136.4" cy="583.1" r="9.4"/>
<circle cx="1017.9" cy="571.0" r="9.4"/>
<circle cx="1030.7" cy="577.4" r="9.4"/>
<circle cx="1012.1" cy="576.0" r="9.4"/>
<circle cx="1035.0" cy="583.1" r="9.4"/>
<circle cx="1010.0" cy="584.6" r="9.4"/>
<circle cx="995.0" cy="587.4" r="9.4"/>
<circle cx="1022.9" cy="589.6" r="9.4"/>
<circle cx="1041.4" cy="593.1" r="9.4"/>
<circle cx="1057.9" cy="591.7" r="9.4"/>
<circle cx="1080.7" cy="597.4" r="9.4"/>
<circle cx="1001.4" cy="603.6" r="9.4"/>
<circle cx="1035.7" cy="607.4" r="9.4"/>
<circle cx="1050.0" cy="604.6" r="9.4"/>
<circle cx="1067.1" cy="607.4" r="9.4"/>
<circle cx="1057.1" cy="614.6" r="9.4"/>
<circle cx="867.9" cy="591.7" r="9.4"/>
<circle cx="882.6" cy="592.4" r="9.4"/>
<circle cx="901.1" cy="590.3" r="9.4"/>
<circle cx="878.6" cy="600.3" r="9.4"/>
<circle cx="897.9" cy="605.3" r="9.4"/>
<circle cx="887.1" cy="614.6" r="9.4"/>
<circle cx="864.3" cy="616.0" r="9.4"/>
<circle cx="940.9" cy="607.7" r="9.4"/>
<circle cx="1157.9" cy="598.9" r="9.4"/>
<circle cx="1059.0" cy="654.3" r="9.4"/>
<circle cx="884.6" cy="685.7" r="9.4"/>
<circle cx="866.4" cy="690.7" r="9.4"/>
<circle cx="872.9" cy="697.1" r="9.4"/>
<circle cx="878.6" cy="694.3" r="9.4"/>
<circle cx="862.9" cy="719.7" r="9.4"/>
<circle cx="900.4" cy="719.0" r="9.4"/>
<circle cx="894.3" cy="741.4" r="9.4"/>
<circle cx="902.9" cy="760.3" r="9.4"/>
<circle cx="936.4" cy="705.7" r="9.4"/>
<circle cx="976.4" cy="713.9" r="9.4"/>
<circle cx="993.9" cy="717.4" r="9.4"/>
<circle cx="955.7" cy="727.1" r="9.4"/>
<circle cx="965.3" cy="727.9" r="9.4"/>
<circle cx="945.3" cy="733.1" r="9.4"/>
<circle cx="926.7" cy="746.4" r="9.4"/>
<circle cx="950.7" cy="756.4" r="9.4"/>
<circle cx="961.4" cy="756.4" r="9.4"/>
<circle cx="946.1" cy="764.0" r="9.4"/>
<circle cx="974.3" cy="767.9" r="9.4"/>
<circle cx="961.4" cy="772.9" r="9.4"/>
<circle cx="958.6" cy="764.3" r="9.4"/>
<circle cx="1011.9" cy="759.7" r="9.4"/>
<circle cx="931.9" cy="781.9" r="9.4"/>
<circle cx="928.6" cy="801.1" r="9.4"/>
<circle cx="999.3" cy="803.1" r="9.4"/>
<circle cx="983.6" cy="823.1" r="9.4"/>
<circle cx="1030.7" cy="791.9" r="9.4"/>
<circle cx="1046.4" cy="788.6" r="9.4"/>
<circle cx="1057.4" cy="775.7" r="9.4"/>
<circle cx="1037.1" cy="812.9" r="9.4"/>
<circle cx="1086.4" cy="743.1" r="9.4"/>
<circle cx="1115.4" cy="719.6" r="9.4"/>
<circle cx="1136.4" cy="710.7" r="9.4"/>
<circle cx="1143.6" cy="689.6" r="9.4"/>
<circle cx="1087.9" cy="776.7" r="9.4"/>
<circle cx="1100.4" cy="784.6" r="9.4"/>
<circle cx="1143.9" cy="767.1" r="9.4"/>
<circle cx="1134.3" cy="787.9" r="9.4"/>
<circle cx="1139.3" cy="786.4" r="9.4"/>
<circle cx="1135.7" cy="799.3" r="9.4"/>
<circle cx="1142.1" cy="800.7" r="9.4"/>
<circle cx="1095.0" cy="815.7" r="9.4"/>
<circle cx="1102.9" cy="811.4" r="9.4"/>
<circle cx="1127.1" cy="812.9" r="9.4"/>
<circle cx="1135.0" cy="820.0" r="9.4"/>
<circle cx="1150.0" cy="819.6" r="9.4"/>
<circle cx="1105.4" cy="832.9" r="9.4"/>
<circle cx="960.7" cy="859.7" r="9.4"/>
<circle cx="1076.7" cy="842.9" r="9.4"/>
<circle cx="1086.4" cy="853.3" r="9.4"/>
<circle cx="1097.9" cy="859.0" r="9.4"/>
<circle cx="1108.6" cy="839.7" r="9.4"/>
<circle cx="1111.4" cy="842.3" r="9.4"/>
<circle cx="1129.3" cy="851.1" r="9.4"/>
<circle cx="1139.6" cy="853.3" r="9.4"/>
<circle cx="1120.3" cy="868.0" r="9.4"/>
<circle cx="1058.1" cy="865.7" r="9.4"/>
<circle cx="1071.0" cy="870.4" r="9.4"/>
<circle cx="1086.7" cy="872.6" r="9.4"/>
<circle cx="1033.1" cy="875.4" r="9.4"/>
<circle cx="1037.6" cy="888.3" r="9.4"/>
<circle cx="1017.9" cy="890.9" r="9.4"/>
<circle cx="1079.0" cy="889.3" r="9.4"/>
<circle cx="1104.0" cy="891.6" r="9.4"/>
<circle cx="1096.4" cy="900.1" r="9.4"/>
<circle cx="1065.7" cy="904.3" r="9.4"/>
<circle cx="921.7" cy="894.4" r="9.4"/>
<circle cx="889.7" cy="910.4" r="9.4"/>
<circle cx="867.9" cy="925.4" r="9.4"/>
<circle cx="880.0" cy="934.4" r="9.4"/>
<circle cx="940.3" cy="918.0" r="9.4"/>
<circle cx="992.4" cy="912.3" r="9.4"/>
<circle cx="977.1" cy="917.9" r="9.4"/>
<circle cx="961.7" cy="923.3" r="9.4"/>
<circle cx="965.4" cy="934.7" r="9.4"/>
<circle cx="1034.3" cy="926.1" r="9.4"/>
<circle cx="1041.4" cy="933.7" r="9.4"/>
<circle cx="1110.3" cy="924.0" r="9.4"/>
<circle cx="1108.9" cy="927.6" r="9.4"/>
<circle cx="1152.1" cy="925.9" r="9.4"/>
<circle cx="941.7" cy="950.4" r="9.4"/>
<circle cx="972.6" cy="951.1" r="9.4"/>
<circle cx="901.4" cy="956.6" r="9.4"/>
<circle cx="1123.6" cy="947.6" r="9.4"/>
<circle cx="1140.7" cy="946.6" r="9.4"/>
<circle cx="1026.1" cy="960.1" r="9.4"/>
<circle cx="1046.4" cy="956.4" r="9.4"/>
<circle cx="1060.0" cy="961.1" r="9.4"/>
<circle cx="1069.7" cy="966.9" r="9.4"/>
<circle cx="1150.7" cy="965.1" r="9.4"/>
<circle cx="950.0" cy="971.4" r="9.4"/>
<circle cx="985.7" cy="975.1" r="9.4"/>
<circle cx="913.3" cy="976.1" r="9.4"/>
<circle cx="885.0" cy="983.3" r="9.4"/>
<circle cx="901.1" cy="985.9" r="9.4"/>
<circle cx="1111.7" cy="968.3" r="9.4"/>
<circle cx="1100.0" cy="979.4" r="9.4"/>
<circle cx="1128.3" cy="987.1" r="9.4"/>
<circle cx="1152.9" cy="985.4" r="9.4"/>
<circle cx="1145.7" cy="997.6" r="9.4"/>
<circle cx="1124.3" cy="1004.7" r="9.4"/>
<circle cx="870.0" cy="997.6" r="9.4"/>
<circle cx="937.6" cy="996.4" r="9.4"/>
<circle cx="978.9" cy="990.4" r="9.4"/>
<circle cx="996.0" cy="995.0" r="9.4"/>
<circle cx="972.6" cy="1004.3" r="9.4"/>
<circle cx="1021.4" cy="999.4" r="9.4"/>
<circle cx="1067.9" cy="999.0" r="9.4"/>
<circle cx="1081.7" cy="995.1" r="9.4"/>
<circle cx="907.4" cy="1018.3" r="9.4"/>
<circle cx="903.6" cy="1027.6" r="9.4"/>
<circle cx="900.7" cy="1039.7" r="9.4"/>
<circle cx="877.6" cy="1041.4" r="9.4"/>
<circle cx="1007.6" cy="1023.3" r="9.4"/>
<circle cx="1012.1" cy="1035.1" r="9.4"/>
<circle cx="966.7" cy="1035.4" r="9.4"/>
<circle cx="983.6" cy="1033.7" r="9.4"/>
<circle cx="951.4" cy="1046.9" r="9.4"/>
<circle cx="968.6" cy="1044.0" r="9.4"/>
<circle cx="1075.0" cy="1031.9" r="9.4"/>
<circle cx="1069.3" cy="1036.9" r="9.4"/>
<circle cx="1092.9" cy="1028.6" r="9.4"/>
<circle cx="1127.9" cy="1024.0" r="9.4"/>
<circle cx="1121.1" cy="1029.7" r="9.4"/>
<circle cx="1148.6" cy="1029.0" r="9.4"/>
<circle cx="1127.1" cy="1045.4" r="9.4"/>
<circle cx="1152.1" cy="1044.7" r="9.4"/>
<circle cx="869.5" cy="396.5" r="9.4"/>
<circle cx="866.5" cy="415.3" r="9.4"/>
<circle cx="907.5" cy="416.0" r="9.4"/>
<circle cx="900.2" cy="429.0" r="9.4"/>
<circle cx="916.2" cy="454.5" r="9.4"/>
<circle cx="808.0" cy="441.2" r="9.4"/>
<circle cx="844.8" cy="439.0" r="9.4"/>
<circle cx="831.0" cy="434.0" r="9.4"/>
<circle cx="832.0" cy="463.5" r="9.4"/>
<circle cx="803.5" cy="490.3" r="9.4"/>
<circle cx="839.5" cy="495.7" r="9.4"/>
<circle cx="844.0" cy="397.5" r="9.4"/>
<circle cx="1268.3" cy="490.6" r="9.4"/>
<circle cx="1384.0" cy="870.7" r="9.4"/>
<circle cx="1564.0" cy="1045.0" r="9.4"/>
</g>
<g fill="#5c167f">
<circle cx="1210.6" cy="1092.3" r="9.4"/>
<circle cx="1266.7" cy="804.3" r="9.4"/>
<circle cx="1692.1" cy="1055.9" r="9.4"/>
<circle cx="1510.0" cy="595.3" r="9.4"/>
<circle cx="1572.9" cy="915.1" r="9.4"/>
<circle cx="852.1" cy="1168.3" r="9.4"/>
<circle cx="632.4" cy="570.7" r="9.4"/>
<circle cx="689.6" cy="879.4" r="9.4"/>
<circle cx="890.3" cy="914.3" r="9.4"/>
<circle cx="816.0" cy="434.0" r="9.4"/>
<circle cx="858.2" cy="406.2" r="9.4"/>
</g>
<g fill="#a3307e">
<circle cx="841.5" cy="396.5" r="9.4"/>
<circle cx="844.5" cy="429.0" r="9.4"/>
<circle cx="842.5" cy="441.0" r="9.4"/>
<circle cx="830.0" cy="446.5" r="9.4"/>
<circle cx="813.5" cy="477.8" r="9.4"/>
</g>
<g fill="#d6456c">
<circle cx="1197.4" cy="1028.3" r="9.4"/>
<circle cx="1606.4" cy="974.7" r="9.4"/>
<circle cx="1144.6" cy="475.3" r="9.4"/>
<circle cx="879.8" cy="399.3" r="9.4"/>
<circle cx="821.5" cy="444.8" r="9.4"/>
</g>
<g fill="#f3655c">
<circle cx="1501.7" cy="577.0" r="9.4"/>
<circle cx="848.0" cy="417.0" r="9.4"/>
</g>
<g fill="#fb8861">
<circle cx="1445.4" cy="546.3" r="9.4"/>
</g>
<g fill="#febb81">
<circle cx="732.6" cy="1032.6" r="9.4"/>
<circle cx="820.8" cy="420.5" r="9.4"/>
<circle cx="838.0" cy="410.0" r="9.4"/>
<circle cx="837.2" cy="428.5" r="9.4"/>
</g>
<g fill="#fde9a3">
<circle cx="857.2" cy="404.8" r="9.4"/>
</g>
<g fill="#fcfdbf">
<circle cx="821.8" cy="422.5" r="9.4"/>
</g>
<!-- axes -->
<g stroke="#000" stroke-width="4.4" fill="none" stroke-linecap="butt">
<line x1="236.7" y1="142.7" x2="236.7" y2="1304.9"/>
<line x1="234.5" y1="1302.7" x2="1829" y2="1302.7"/>
<line x1="222" y1="249.3" x2="236" y2="249.3"/>
<line x1="222" y1="512.65" x2="236" y2="512.65"/>
<line x1="222" y1="776" x2="236" y2="776"/>
<line x1="222" y1="1039.35" x2="236" y2="1039.35"/>
<line x1="222" y1="1302.7" x2="236" y2="1302.7"/>
<line x1="532" y1="1303" x2="532" y2="1316.7"/>
<line x1="976" y1="1303" x2="976" y2="1316.7"/>
<line x1="1420" y1="1303" x2="1420" y2="1316.7"/>
</g>
<g class="tick" text-anchor="end">
<text x="209" y="267.6">7.5</text>
<text x="209" y="530.8">5.0</text>
<text x="209" y="794">2.5</text>
<text x="209" y="1057.4">0.0</text>
<text x="209" y="1321">-2.5</text>
</g>
<g class="tick" text-anchor="middle">
<text x="532" y="1366.7">0</text>
<text x="976" y="1366.7">4</text>
<text x="1420" y="1366.7">8</text>
</g>
<text class="axt" transform="translate(1030,1435) scale(0.955,1)" text-anchor="middle">UMAP_1</text>
<text class="axt" transform="translate(93.8,723) rotate(-90) scale(0.955,1)" text-anchor="middle">UMAP_2</text>
<!-- legend -->
<rect x="1885" y="578.6" width="64" height="319.4" fill="url(#mg)"/>
<g stroke="#fff" stroke-width="1.6">
<line x1="1885" y1="632" x2="1898" y2="632"/><line x1="1936" y1="632" x2="1949" y2="632"/>
<line x1="1885" y1="698.6" x2="1898" y2="698.6"/><line x1="1936" y1="698.6" x2="1949" y2="698.6"/>
<line x1="1885" y1="764.9" x2="1898" y2="764.9"/><line x1="1936" y1="764.9" x2="1949" y2="764.9"/>
<line x1="1885" y1="831.4" x2="1898" y2="831.4"/><line x1="1936" y1="831.4" x2="1949" y2="831.4"/>
<line x1="1885" y1="897.4" x2="1898" y2="897.4"/><line x1="1936" y1="897.4" x2="1949" y2="897.4"/>
</g>
<g class="tick">
<text x="1976" y="650.1">2.0</text>
<text x="1976" y="716.7">1.5</text>
<text x="1976" y="783">1.0</text>
<text x="1976" y="849.5">0.5</text>
<text x="1976" y="915.5">0.0</text>
</g>
</svg>
</body></html>
